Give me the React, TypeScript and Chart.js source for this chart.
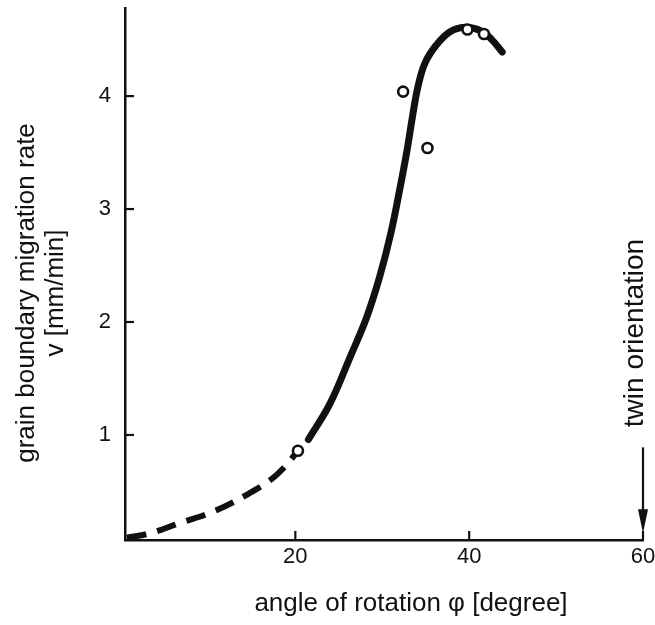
import React, { useEffect, useRef } from "react";
import { Chart, registerables } from "chart.js";

Chart.register(...registerables);

// Fitted curve, dashed (extrapolated) part
const dashedX = [0.6, 3.3, 6.7, 10.5, 14.4, 17.1, 18.8, 20.3];
const dashedY = [0.09, 0.13, 0.22, 0.32, 0.47, 0.6, 0.72, 0.86];
// Fitted curve, solid part
const solidX = [21.5, 24.0, 26.3, 28.2, 29.7, 31.0, 32.0, 32.85, 33.5, 34.1, 34.9, 36.2, 37.8, 39.5, 41.3, 42.6, 43.8];
const solidY = [0.96, 1.28, 1.69, 2.04, 2.4, 2.79, 3.17, 3.52, 3.83, 4.08, 4.29, 4.45, 4.57, 4.61, 4.58, 4.5, 4.39];
// Measured points (open circles)
const measX = [20.3, 32.4, 35.2, 39.8, 41.7];
const measY = [0.86, 4.04, 3.54, 4.59, 4.55];
// Ticks
const xTicks = [20, 40, 60];
const yTicks = [1, 2, 3, 4];
// Texts
const xTitle = "angle of rotation \u03c6 [degree]";
const yTitle = ["grain boundary migration rate", "v [mm/min]"];
const twinLabel = "twin orientation";
const twinAt = 60;
const arrowFrom = 0.89;
const arrowTo = 0.13;

const FONT = "'Liberation Sans', Arial, Helvetica, sans-serif";
const INK = "#111";

const pts = (xs: number[], ys: number[]) => xs.map((x, i) => ({ x, y: ys[i] }));

const decorPlugin = {
  id: "decor",
  afterDraw(chart: any) {
    const { ctx, chartArea, scales } = chart;
    const xs = scales.x;
    const ys = scales.y;
    ctx.save();
    ctx.strokeStyle = INK;
    ctx.fillStyle = INK;
    ctx.lineWidth = 2.2;
    // inward ticks
    yTicks.forEach((v) => {
      const py = ys.getPixelForValue(v);
      ctx.beginPath();
      ctx.moveTo(chartArea.left, py);
      ctx.lineTo(chartArea.left + 9, py);
      ctx.stroke();
    });
    xTicks.forEach((v) => {
      const px = xs.getPixelForValue(v);
      ctx.beginPath();
      ctx.moveTo(px, chartArea.bottom);
      ctx.lineTo(px, chartArea.bottom - 9);
      ctx.stroke();
    });
    // x title
    ctx.font = `26px ${FONT}`;
    ctx.textAlign = "center";
    ctx.textBaseline = "middle";
    ctx.fillText(xTitle, 411, 604);
    // y title
    ctx.save();
    ctx.translate(27, 293);
    ctx.rotate(-Math.PI / 2);
    ctx.fillText(yTitle[0], 0, 0);
    ctx.fillText(yTitle[1], 0, 29);
    ctx.restore();
    // twin orientation label
    const ax = xs.getPixelForValue(twinAt);
    ctx.font = `28px ${FONT}`;
    ctx.save();
    ctx.translate(ax - 8, 333);
    ctx.rotate(-Math.PI / 2);
    ctx.fillText(twinLabel, 0, 0);
    ctx.restore();
    // arrow
    const y0 = ys.getPixelForValue(arrowFrom);
    const y1 = ys.getPixelForValue(arrowTo);
    ctx.lineWidth = 2.2;
    ctx.beginPath();
    ctx.moveTo(ax, y0);
    ctx.lineTo(ax, y1 - 20);
    ctx.stroke();
    ctx.beginPath();
    ctx.moveTo(ax, y1);
    ctx.lineTo(ax - 5, y1 - 24);
    ctx.lineTo(ax + 5, y1 - 24);
    ctx.closePath();
    ctx.fill();
    ctx.restore();
  },
};

export default function App() {
  const ref = useRef<HTMLCanvasElement | null>(null);
  useEffect(() => {
    document.body.style.margin = "0";
    const canvas = ref.current;
    if (!canvas) return;
    const chart = new Chart(canvas, {
      type: "scatter",
      data: {
        datasets: [
          {
            label: "curve (dashed)",
            data: pts(dashedX, dashedY),
            showLine: true,
            borderColor: INK,
            borderWidth: 6,
            borderDash: [20, 11],
            borderCapStyle: "butt",
            pointRadius: 0,
            tension: 0.4,
            order: 3,
          },
          {
            label: "curve",
            data: pts(solidX, solidY),
            showLine: true,
            borderColor: INK,
            borderWidth: 7,
            borderCapStyle: "round",
            pointRadius: 0,
            tension: 0.4,
            order: 2,
          },
          {
            label: "measured",
            data: pts(measX, measY),
            showLine: false,
            pointRadius: 5,
            pointBackgroundColor: "#fff",
            pointBorderColor: INK,
            pointBorderWidth: 2.6,
            order: 1,
          },
        ],
      },
      options: {
        animation: false,
        responsive: false,
        maintainAspectRatio: false,
        layout: { padding: { top: 8, right: 12, left: 0, bottom: 0 } },
        plugins: { legend: { display: false }, tooltip: { enabled: false } },
        scales: {
          x: {
            type: "linear",
            min: 0.4,
            max: 60,
            afterBuildTicks: (s: any) => {
              s.ticks = xTicks.map((v) => ({ value: v }));
            },
            afterFit: (s: any) => {
              s.height = 85;
              s.paddingLeft = 0;
              s.paddingRight = 0;
            },
            grid: { display: false, drawTicks: false },
            border: { display: true, color: INK, width: 2.5 },
            ticks: {
              padding: 4,
              color: INK,
              font: { family: FONT, size: 22 },
              maxRotation: 0,
            },
          },
          y: {
            type: "linear",
            min: 0.07,
            max: 4.78,
            afterBuildTicks: (s: any) => {
              s.ticks = yTicks.map((v) => ({ value: v }));
            },
            afterFit: (s: any) => {
              s.width = 125;
              s.paddingTop = 0;
              s.paddingBottom = 0;
            },
            grid: { display: false, drawTicks: false },
            border: { display: true, color: INK, width: 2.5 },
            ticks: {
              padding: 14,
              color: INK,
              font: { family: FONT, size: 22 },
            },
          },
        },
      },
      plugins: [decorPlugin],
    });
    return () => chart.destroy();
  }, []);
  return (
    <div style={{ position: "absolute", left: 0, top: 0, width: 655, height: 625, background: "#fff" }}>
      <canvas ref={ref} width={655} height={625} style={{ display: "block", width: 655, height: 625 }} />
    </div>
  );
}
